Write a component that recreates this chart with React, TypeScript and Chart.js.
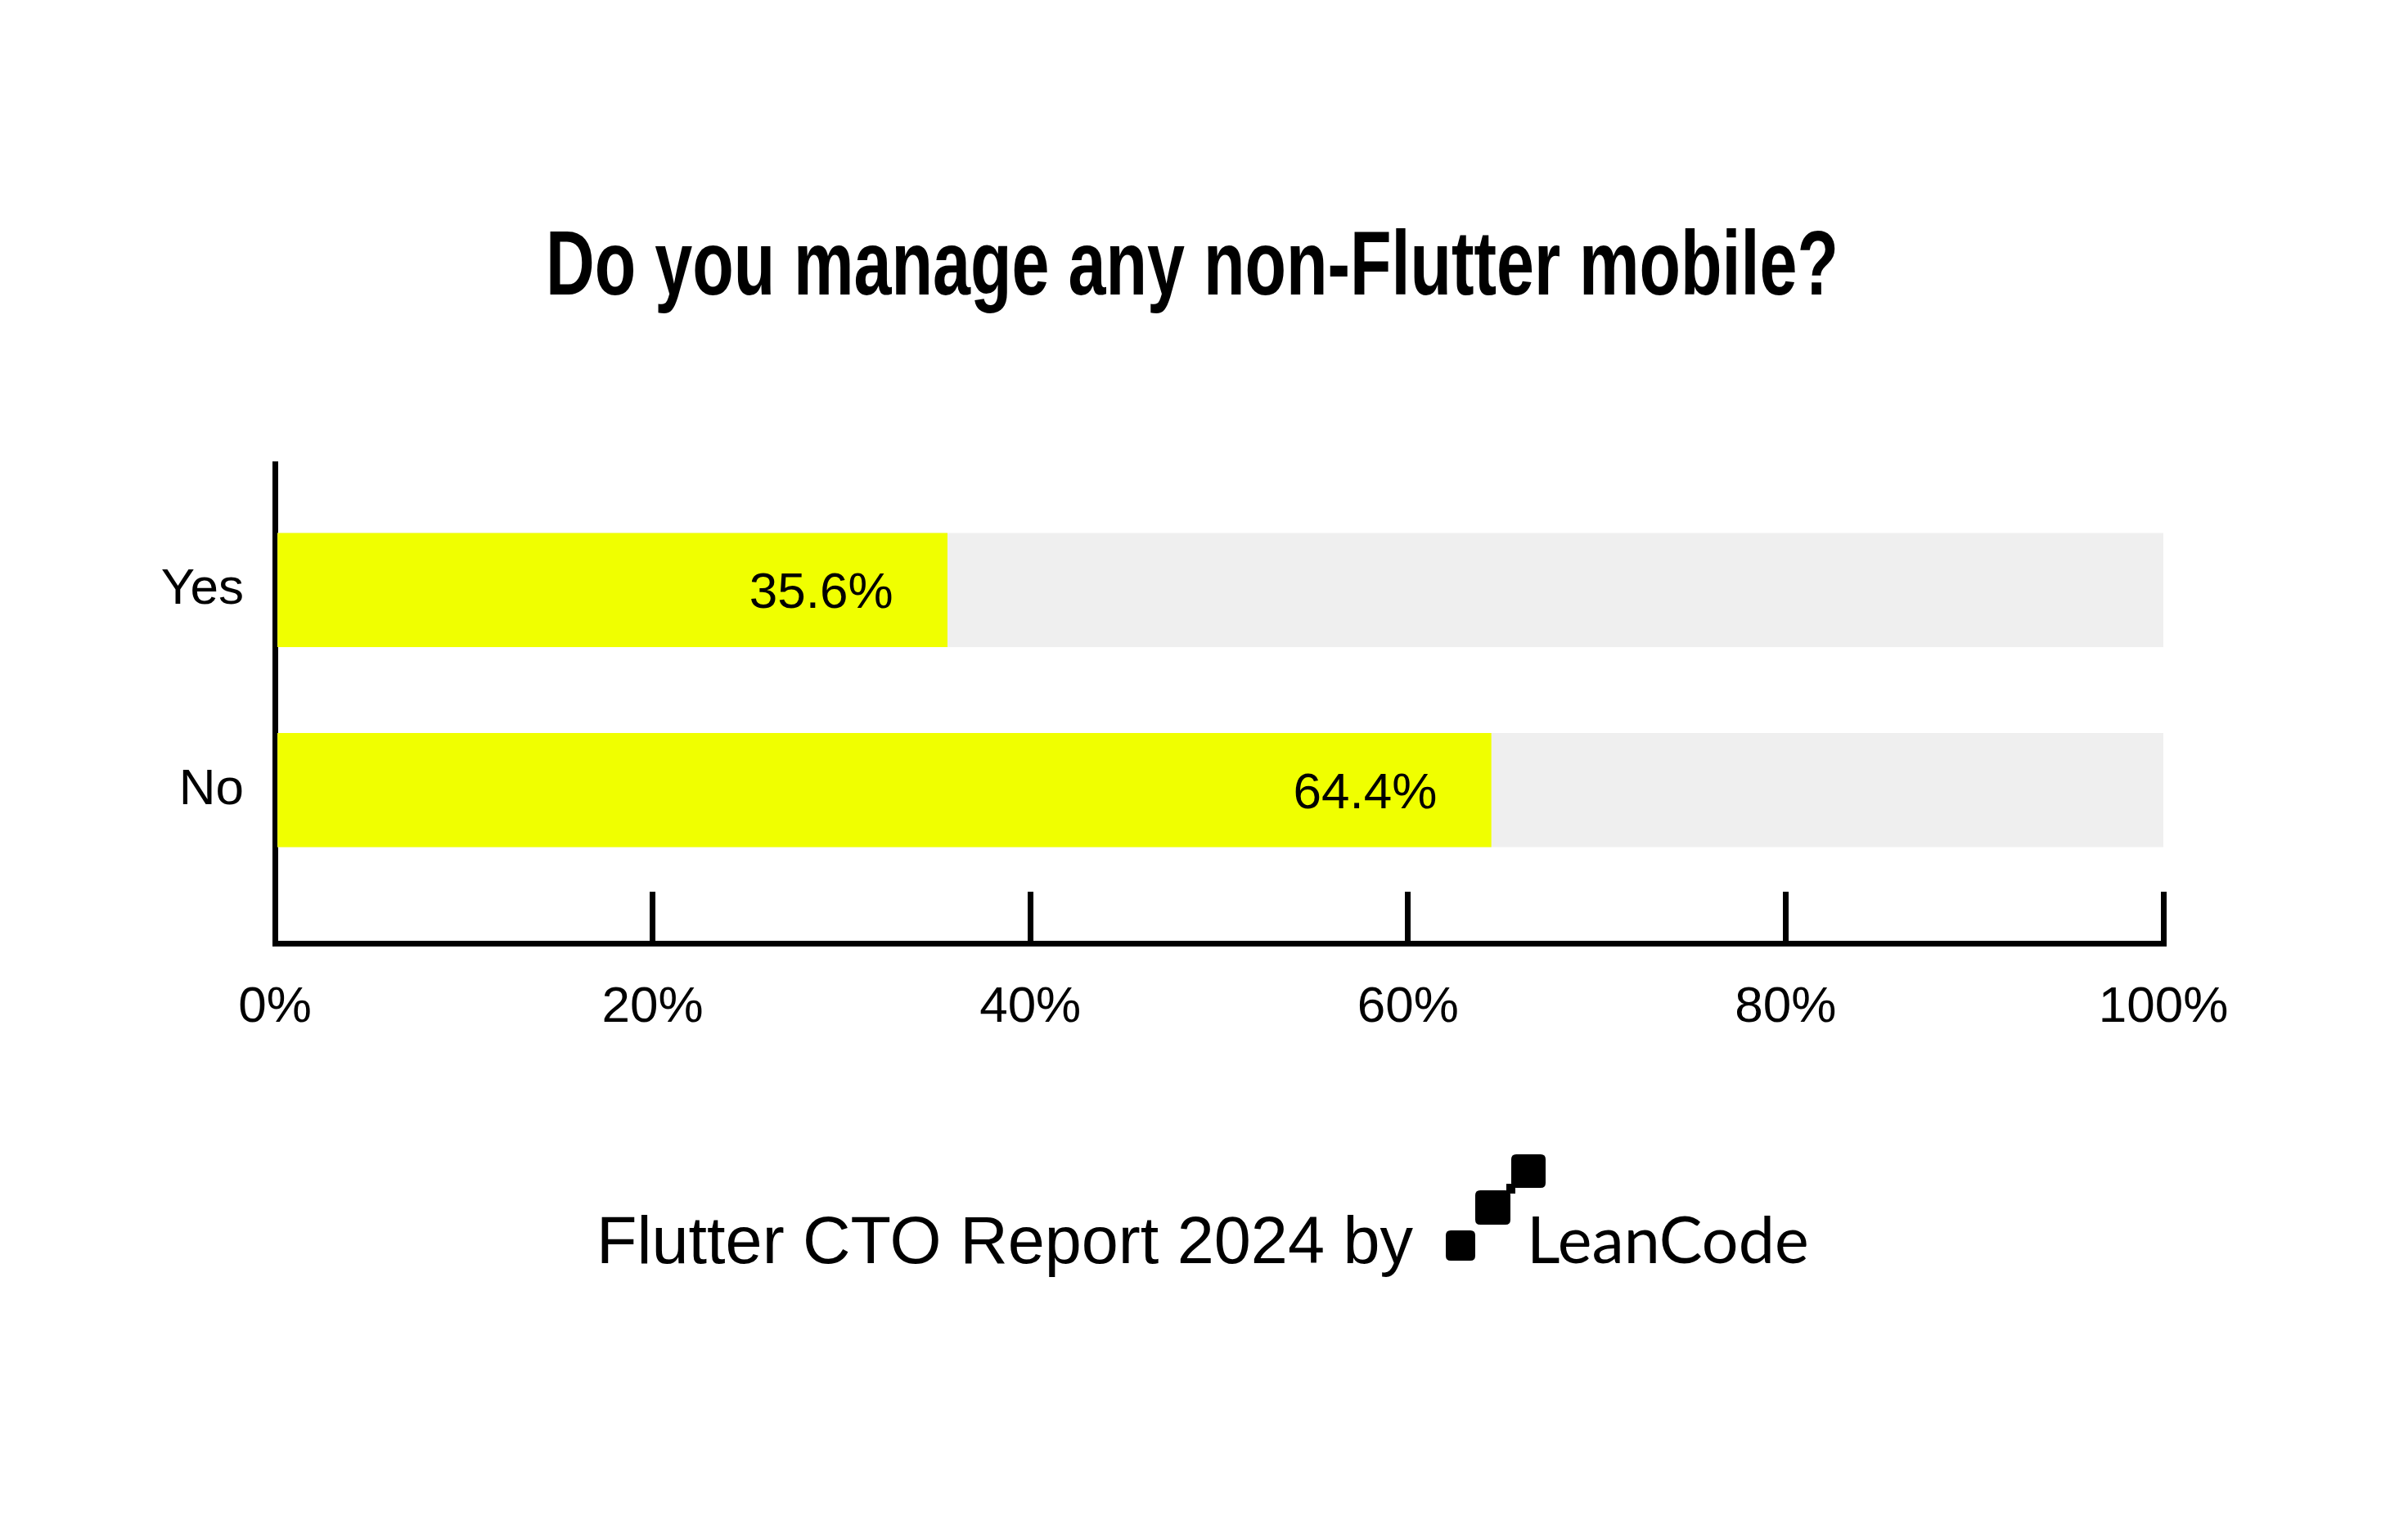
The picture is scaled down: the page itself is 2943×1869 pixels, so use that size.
import React, { useEffect, useRef } from "react";
import { Chart, registerables } from "chart.js";

Chart.register(...registerables);

// ---- data ----
const TITLE = "Do you manage any non-Flutter mobile?";
const categories = ["Yes", "No"];
const values = [35.6, 64.4];
const track = [100, 100];
const xTickStep = 20;
const xMin = 0;
const xMax = 100;
const FOOTER_TEXT = "Flutter CTO Report 2024 by";
const BRAND = "LeanCode";

const W = 2943;
const H = 1869;

const YELLOW = "#F0FF00";
const GREY = "#EFEFEF";

export default function App() {
  const ref = useRef<HTMLCanvasElement | null>(null);

  useEffect(() => {
    const canvas = ref.current;
    if (!canvas) return;

    const valueLabels = {
      id: "valueLabels",
      afterDatasetsDraw(chart: any) {
        const ctx = chart.ctx;
        const meta = chart.getDatasetMeta(0);
        ctx.save();
        ctx.fillStyle = "#000";
        ctx.font = '62px "Liberation Sans", Arial, sans-serif';
        ctx.textAlign = "right";
        ctx.textBaseline = "alphabetic";
        meta.data.forEach((el: any, i: number) => {
          ctx.fillText(values[i].toFixed(1) + "%", el.x - 66, el.y + 22);
        });
        ctx.restore();
      },
    };

    const decor = {
      id: "decor",
      afterDraw(chart: any) {
        const ctx = chart.ctx;
        ctx.save();
        ctx.fillStyle = "#000";
        // Title (condensed bold)
        ctx.font = 'bold 112px "Liberation Sans Narrow", "Liberation Sans", Arial, sans-serif';
        ctx.textAlign = "left";
        ctx.textBaseline = "alphabetic";
        const tw = ctx.measureText(TITLE).width;
        const sx = 1580 / tw;
        ctx.save();
        ctx.translate(667, 360);
        ctx.scale(sx, 1);
        ctx.fillText(TITLE, 0, 0);
        ctx.restore();

        // Footer text
        ctx.font = '81px "Liberation Sans", Arial, sans-serif';
        ctx.textAlign = "right";
        ctx.fillText(FOOTER_TEXT, 1727, 1544);

        // Logo squares
        const rr = (x: number, y: number, w: number, h: number, r: number) => {
          ctx.beginPath();
          ctx.moveTo(x + r, y);
          ctx.lineTo(x + w - r, y);
          ctx.quadraticCurveTo(x + w, y, x + w, y + r);
          ctx.lineTo(x + w, y + h - r);
          ctx.quadraticCurveTo(x + w, y + h, x + w - r, y + h);
          ctx.lineTo(x + r, y + h);
          ctx.quadraticCurveTo(x, y + h, x, y + h - r);
          ctx.lineTo(x, y + r);
          ctx.quadraticCurveTo(x, y, x + r, y);
          ctx.closePath();
          ctx.fill();
        };
        rr(1767, 1504, 36, 37, 6);
        rr(1803, 1455, 43, 42, 6);
        rr(1847, 1411, 42, 41, 6);
        ctx.fillRect(1841, 1447, 11, 12);

        // Brand text
        ctx.font = '79px Lato, "Open Sans", sans-serif';
        ctx.textAlign = "left";
        ctx.fillText(BRAND, 1866, 1544);
        ctx.restore();
      },
    };

    const chart = new Chart(canvas, {
      type: "bar",
      data: {
        datasets: [
          {
            label: "value",
            data: categories.map((c, i) => ({ x: values[i], y: i + 1 })) as any,
            backgroundColor: YELLOW,
            barThickness: 139,
            grouped: false,
            order: 0,
          } as any,
          {
            label: "track",
            data: categories.map((c, i) => ({ x: track[i], y: i + 1 })) as any,
            backgroundColor: GREY,
            barThickness: 139,
            grouped: false,
            order: 1,
          } as any,
        ],
      },
      options: {
        indexAxis: "y",
        responsive: false,
        animation: false,
        devicePixelRatio: 1,
        layout: { padding: { top: 567, right: 299, bottom: 516, left: 0 } },
        plugins: {
          legend: { display: false },
          tooltip: { enabled: false },
          title: { display: false },
        },
        events: [],
        scales: {
          x: {
            type: "linear",
            position: "bottom",
            min: xMin,
            max: xMax,
            offset: false,
            ticks: {
              stepSize: xTickStep,
              color: "#000",
              padding: 105,
              font: { family: '"Liberation Sans", Arial, sans-serif', size: 62 },
              callback: (v: any) => v + "%",
              maxRotation: 0,
            },
            grid: {
              display: true,
              drawOnChartArea: false,
              drawTicks: true,
              tickLength: -63,
              lineWidth: 7,
              color: "#000",
              offset: false,
            },
            border: { display: true, width: 7, color: "#000" },
            afterFit: (s: any) => {
              s.height = 200;
            },
          },
          y: {
            type: "linear",
            position: "left",
            reverse: true,
            offset: false,
            min: 0.369,
            max: 2.766,
            afterBuildTicks: (s: any) => {
              s.ticks = categories.map((c, i) => ({ value: i + 1 }));
            },
            ticks: {
              autoSkip: false,
              color: "#000",
              padding: 38,
              font: { family: '"Liberation Sans", Arial, sans-serif', size: 62 },
              callback: (v: any) => categories[Math.round(v) - 1] ?? "",
            },
            grid: { display: false, drawTicks: false, lineWidth: 7, offset: false },
            border: { display: true, width: 7, color: "#000" },
            afterFit: (s: any) => {
              s.width = 336;
            },
          },
        },
      } as any,
      plugins: [valueLabels, decor],
    });

    return () => chart.destroy();
  }, []);

  return (
    <div style={{ position: "absolute", left: 0, top: 0, width: W, height: H, background: "#fff" }}>
      <canvas ref={ref} width={W} height={H} style={{ width: W, height: H, display: "block" }} />
    </div>
  );
}
